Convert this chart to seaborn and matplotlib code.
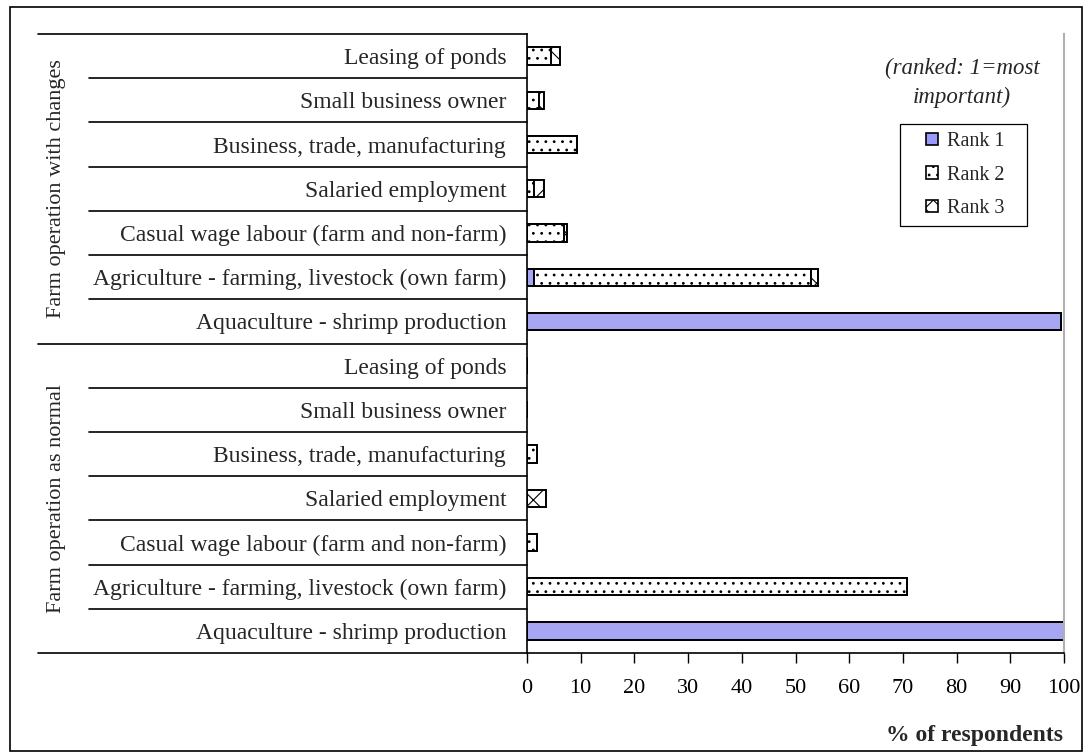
import pandas as pd
import seaborn as sns
import matplotlib.pyplot as plt
import matplotlib.transforms as mtransforms
from matplotlib.patches import Patch, Rectangle

groups = ['Farm operation with changes', 'Farm operation as normal']
activities = ['Leasing of ponds', 'Small business owner', 'Business, trade, manufacturing',
              'Salaried employment', 'Casual wage labour (farm and non-farm)',
              'Agriculture - farming, livestock (own farm)', 'Aquaculture - shrimp production']

# % of respondents
rank1_changes = [0, 0, 0, 0, 0, 1.3, 99.4]
rank2_changes = [4.4, 2.2, 9.4, 1.3, 6.9, 51.5, 0]
rank3_changes = [1.8, 0.9, 0, 1.9, 0.6, 1.4, 0]
rank1_normal = [0, 0, 0, 0, 0, 0, 100]
rank2_normal = [0, 0, 1.8, 0, 1.8, 70.7, 0]
rank3_normal = [0, 0, 0, 3.5, 0, 0, 0]

rows = []
for g, r1, r2, r3 in [(groups[0], rank1_changes, rank2_changes, rank3_changes),
                      (groups[1], rank1_normal, rank2_normal, rank3_normal)]:
    for a, v1, v2, v3 in zip(activities, r1, r2, r3):
        rows.append({'group': g, 'activity': a, 'key': f'{g}|{a}',
                     'rank1': v1, 'rank2': v2, 'rank3': v3})
df = pd.DataFrame(rows)
df['cum2'] = df['rank1'] + df['rank2']
df['cum3'] = df['cum2'] + df['rank3']
order = list(df['key'])

sns.set_style('white')
plt.rcParams['font.family'] = ['Liberation Serif', 'DejaVu Serif']
plt.rcParams['hatch.linewidth'] = 0.8
fs = 17

fig = plt.figure(figsize=(10.84, 7.54), dpi=100)
ax = fig.add_axes([527 / 1084, 1 - 653 / 754, (1064 - 527) / 1084, (653 - 34) / 754])

bw = 0.39
common = dict(y='key', order=order, orient='h', width=bw, edgecolor='black',
              linewidth=1.4, ax=ax)
# stacked bars: draw cumulative totals back to front
sns.barplot(data=df, x='cum3', color='white', hatch='x', **common)
sns.barplot(data=df, x='cum2', color='white', hatch='..', **common)
sns.barplot(data=df, x='rank1', color='#9999ff', **common)

ax.set_xlim(0, 100)
ax.set_ylim(13.5, -0.5)
ax.set_xticks(range(0, 101, 10))
ax.tick_params(axis='x', labelsize=16, direction='out', length=7, width=1, pad=12,
               bottom=True, colors='black')
ax.set_yticks(range(len(order)))
ax.set_yticklabels(df['activity'], fontsize=fs)
ax.tick_params(axis='y', length=0, pad=15)
ax.set_xlabel('')
ax.set_ylabel('')
for s in ['left', 'bottom']:
    ax.spines[s].set_color('black')
    ax.spines[s].set_linewidth(1.2)
ax.spines['top'].set_visible(False)
ax.spines['right'].set_color('#b0b0b0')
ax.spines['right'].set_linewidth(1.5)

# row separators in the label area
trans = mtransforms.blended_transform_factory(fig.transFigure, ax.transData)
x_axis = 527 / 1084
for y in [-0.5, 6.5, 13.5]:
    ax.plot([38 / 1084, x_axis], [y, y], color='black', lw=1.2, transform=trans, clip_on=False)
for y in [0.5, 1.5, 2.5, 3.5, 4.5, 5.5, 7.5, 8.5, 9.5, 10.5, 11.5, 12.5]:
    ax.plot([89 / 1084, x_axis], [y, y], color='black', lw=1.2, transform=trans, clip_on=False)

ax.text(56 / 1084, 3, groups[0], rotation=90, ha='center', va='center', fontsize=16, transform=trans)
ax.text(56 / 1084, 10, groups[1], rotation=90, ha='center', va='center', fontsize=16, transform=trans)

fig.text(1063 / 1084, 1 - 735 / 754, '% of respondents', ha='right', va='center',
         fontsize=17, fontweight='bold')
fig.text(962 / 1084, 1 - 83 / 754, '(ranked: 1=most\nimportant)', ha='center', va='center',
         fontsize=16.5, style='italic', linespacing=1.45)

handles = [Patch(facecolor='#9999ff', edgecolor='black', lw=1.2),
           Patch(facecolor='white', edgecolor='black', lw=1.2, hatch='..'),
           Patch(facecolor='white', edgecolor='black', lw=1.2, hatch='xx')]
leg = fig.legend(handles, ['Rank 1', 'Rank 2', 'Rank 3'], loc='upper left',
                 bbox_to_anchor=(926 / 1084, 1 - 132 / 754), fontsize=14.5,
                 handlelength=0.6, handleheight=0.6, handletextpad=0.45,
                 labelspacing=0.72, borderpad=0, borderaxespad=0, frameon=False)

# legend box
fig.patches.append(Rectangle((900 / 1084, 1 - 226 / 754), 127 / 1084, 102 / 754, fill=False,
                             edgecolor='black', lw=0.9, transform=fig.transFigure))
# outer chart border
fig.patches.append(Rectangle((10 / 1084, 3 / 754), 1072 / 1084, 744 / 754, fill=False,
                             edgecolor='black', lw=1.2, transform=fig.transFigure))

fig.savefig('out.png', dpi=100)
plt.close(fig)
